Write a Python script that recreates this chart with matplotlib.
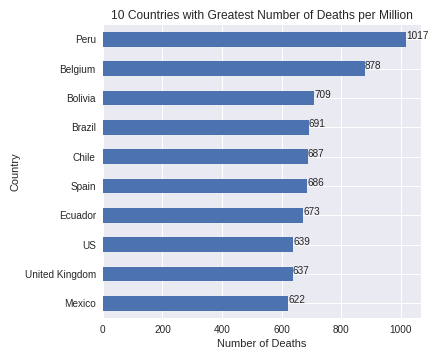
import matplotlib
matplotlib.use('Agg')
import matplotlib.pyplot as plt
import pandas as pd

plt.style.use('seaborn-v0_8')
plt.rcParams['font.family'] = ['Liberation Sans', 'DejaVu Sans']

countries = ['Mexico', 'United Kingdom', 'US', 'Ecuador', 'Spain',
             'Chile', 'Brazil', 'Bolivia', 'Belgium', 'Peru']
deaths = [622, 637, 639, 673, 686, 687, 691, 709, 878, 1017]

df = pd.DataFrame({'Country': countries, 'Deaths': deaths}).set_index('Country')

fig, ax = plt.subplots(figsize=(6, 5), dpi=72)
df['Deaths'].plot(kind='barh', ax=ax, color='#4C72B0')
for i, v in enumerate(deaths):
    ax.text(v, i, str(v), fontsize=10, color='#262626')
ax.set_title('10 Countries with Greatest Number of Deaths per Million', fontsize=12)
ax.set_xlabel('Number of Deaths', fontsize=11)
ax.set_ylabel('Country', fontsize=11)
ax.tick_params(labelsize=10)
plt.subplots_adjust(left=0.238, right=0.975, top=0.931, bottom=0.117)
plt.savefig('out.png')
